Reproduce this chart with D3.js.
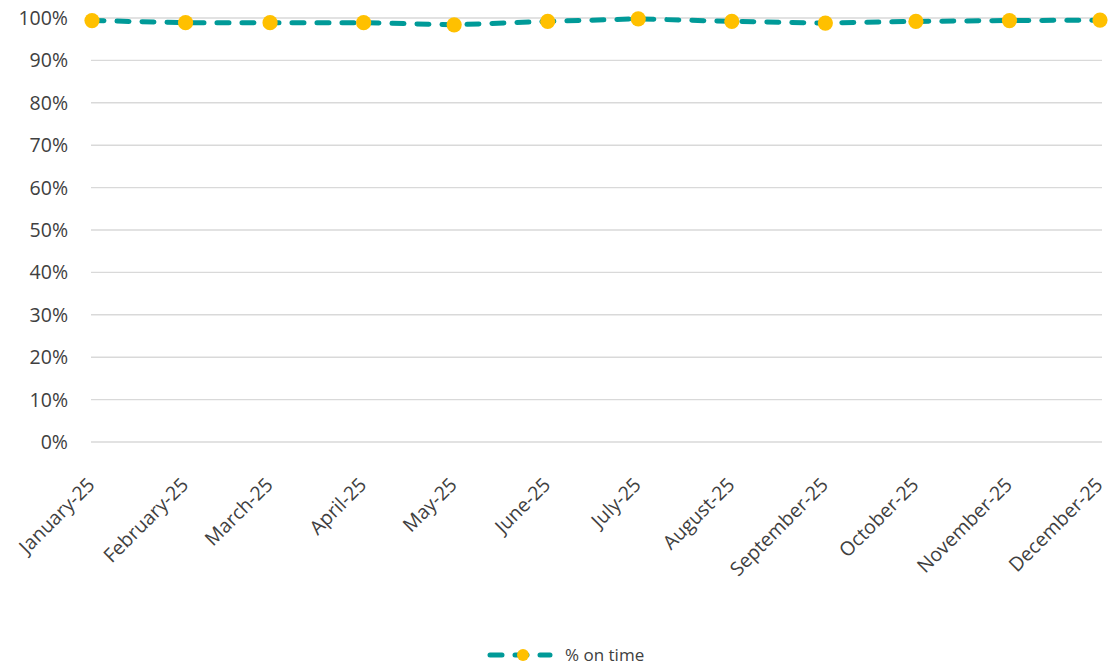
<!DOCTYPE html>
<html>
<head>
<meta charset="utf-8">
<script src="https://cdn.jsdelivr.net/npm/d3@7"></script>
<style>
  body { margin: 0; background: #fff; }
  svg text { font-family: "Open Sans", sans-serif; fill: #404040; }
</style>
</head>
<body>
<div id="chart"></div>
<script>
// months on the x axis (first day of each month)
var months = ["2025-01-01","2025-02-01","2025-03-01","2025-04-01","2025-05-01","2025-06-01",
              "2025-07-01","2025-08-01","2025-09-01","2025-10-01","2025-11-01","2025-12-01"];
var monthLabels = ["January-25","February-25","March-25","April-25","May-25","June-25",
                   "July-25","August-25","September-25","October-25","November-25","December-25"];
// % on time
var onTime = [0.994, 0.989, 0.989, 0.989, 0.984, 0.992, 0.998, 0.992, 0.988, 0.992, 0.994, 0.995];
var yTicks = [0, 0.1, 0.2, 0.3, 0.4, 0.5, 0.6, 0.7, 0.8, 0.9, 1];
var seriesName = "% on time";

var parse = d3.timeParse("%Y-%m-%d");
var data = months.map(function (m, i) {
    return { date: parse(m), value: onTime[i], label: monthLabels[i] };
});

var width = 1108, height = 665;
var gridLeft = 91, gridRight = 1102;
var teal = "#009a98", gold = "#ffc000";

var svg = d3.select("#chart")
    .append("svg")
    .attr("width", width)
    .attr("height", height);

// x is a date axis so months are spaced by their day count
var x = d3.scaleTime()
    .domain([data[0].date, data[data.length - 1].date])
    .range([92, 1100]);

var y = d3.scaleLinear()
    .domain([0, 1])
    .range([442, 18]);

// gridlines
svg.append("g")
    .selectAll("line")
    .data(yTicks)
    .enter()
    .append("line")
    .attr("x1", gridLeft)
    .attr("x2", gridRight)
    .attr("y1", function (d) { return y(d); })
    .attr("y2", function (d) { return y(d); })
    .attr("stroke", "#d9d9d9")
    .attr("stroke-width", 1.4);

// y labels
svg.append("g")
    .selectAll("text")
    .data(yTicks)
    .enter()
    .append("text")
    .attr("x", 68)
    .attr("y", function (d) { return y(d); })
    .attr("dy", "0.36em")
    .attr("text-anchor", "end")
    .style("font-size", "19.5px")
    .text(function (d) { return d3.format(".0%")(d); });

// x labels, rotated -45
svg.append("g")
    .selectAll("text")
    .data(data)
    .enter()
    .append("text")
    .attr("transform", function (d) {
        return "translate(" + (x(d.date) + 4) + "," + 486 + ") rotate(-45)";
    })
    .attr("text-anchor", "end")
    .style("font-size", "19.5px")
    .text(function (d) { return d.label; });

var line = d3.line()
    .x(function (d) { return x(d.date); })
    .y(function (d) { return y(d.value); });

svg.append("path")
    .datum(data)
    .attr("d", line)
    .attr("fill", "none")
    .attr("stroke", teal)
    .attr("stroke-width", 5)
    .attr("stroke-linecap", "round")
    .attr("stroke-dasharray", "12 13");

svg.append("g")
    .selectAll("circle")
    .data(data)
    .enter()
    .append("circle")
    .attr("cx", function (d) { return x(d.date); })
    .attr("cy", function (d) { return y(d.value); })
    .attr("r", 7.6)
    .attr("fill", gold);

// legend
var legend = svg.append("g").attr("transform", "translate(487,655)");
legend.append("line")
    .attr("x1", 3).attr("x2", 63)
    .attr("y1", 0).attr("y2", 0)
    .attr("stroke", teal)
    .attr("stroke-width", 5)
    .attr("stroke-linecap", "round")
    .attr("stroke-dasharray", "12 13");
legend.append("circle")
    .attr("cx", 36).attr("cy", 0).attr("r", 6)
    .attr("fill", gold);
legend.append("text")
    .attr("x", 78)
    .attr("y", 0)
    .attr("dy", "0.35em")
    .style("font-size", "17px")
    .text(seriesName);
</script>
</body>
</html>
